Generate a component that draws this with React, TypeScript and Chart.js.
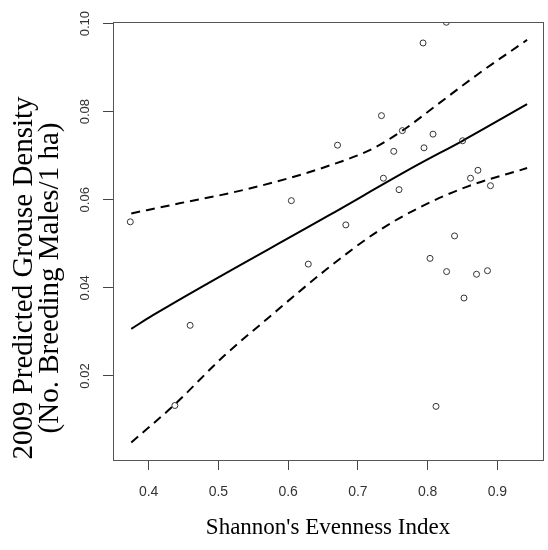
import React, { useEffect, useRef } from "react";
import { Chart, registerables } from "chart.js";

Chart.register(...registerables);

// Observed sites: Shannon's evenness vs predicted grouse density
const evenness = [
  0.8268, 0.7934, 0.7338, 0.6708, 0.7638, 0.8077, 0.7514, 0.7948, 0.8501,
  0.7366, 0.759, 0.6827, 0.8721, 0.8615, 0.8901, 0.8386, 0.8034, 0.8272,
  0.8701, 0.8858, 0.8521, 0.3737, 0.6046, 0.6289, 0.4595, 0.4376, 0.812,
];
const density = [
  0.1003, 0.0956, 0.0791, 0.0724, 0.0757, 0.0749, 0.071, 0.0718, 0.0734,
  0.0649, 0.0623, 0.0543, 0.0667, 0.0649, 0.0632, 0.0518, 0.0467, 0.0437,
  0.0431, 0.0439, 0.0377, 0.055, 0.0598, 0.0454, 0.0315, 0.0133, 0.0131,
];

// Fitted line
const fitX = [0.3751, 0.4062, 0.6589, 0.7853, 0.8501, 0.9426];
const fitY = [0.0307, 0.0338, 0.0565, 0.0679, 0.0734, 0.0817];

// Upper confidence band
const upperX = [0.3751, 0.4443, 0.5159, 0.5826, 0.6541, 0.7185, 0.7638, 0.8139, 0.8711, 0.9426];
const upperY = [0.0569, 0.0592, 0.0615, 0.0641, 0.0675, 0.0714, 0.0757, 0.0816, 0.0884, 0.0963];

// Lower confidence band
const lowerX = [0.3751, 0.4372, 0.5063, 0.5731, 0.6541, 0.7281, 0.7901, 0.8569, 0.9426];
const lowerY = [0.0049, 0.0135, 0.0243, 0.0334, 0.0441, 0.0528, 0.0584, 0.063, 0.0672];

const xTicks = [0.4, 0.5, 0.6, 0.7, 0.8, 0.9];
const xTickLabels = ["0.4", "0.5", "0.6", "0.7", "0.8", "0.9"];
const yTicks = [0.02, 0.04, 0.06, 0.08, 0.1];
const yTickLabels = ["0.02", "0.04", "0.06", "0.08", "0.10"];

const xTitle = "Shannon's Evenness Index";
const yTitle = ["2009 Predicted Grouse Density", "(No. Breeding Males/1 ha)"];

const toPts = (xs: number[], ys: number[]) => xs.map((x, i) => ({ x, y: ys[i] }));

export default function App() {
  const ref = useRef<HTMLCanvasElement>(null);

  useEffect(() => {
    document.body.style.margin = "0";
    const boxPlugin = {
      id: "box",
      afterDraw(chart: any) {
        const { ctx, chartArea: a } = chart;
        ctx.save();
        ctx.strokeStyle = "#555";
        ctx.lineWidth = 1;
        ctx.strokeRect(a.left + 0.5, a.top + 0.5, a.right - a.left, a.bottom - a.top);
        ctx.restore();
      },
    };

    // Y-axis title, drawn rotated beside the y scale (offset lower as in the original)
    const yTitlePlugin = {
      id: "yTitle",
      afterDraw(chart: any) {
        const { ctx } = chart;
        ctx.save();
        ctx.fillStyle = "#000";
        ctx.font = "29px 'Liberation Serif', 'Times New Roman', serif";
        ctx.textAlign = "center";
        ctx.textBaseline = "middle";
        const cy = 278;
        const xs = [24, 50];
        yTitle.forEach((line, i) => {
          ctx.save();
          ctx.translate(xs[i], cy);
          ctx.rotate(-Math.PI / 2);
          ctx.fillText(line, 0, 0);
          ctx.restore();
        });
        ctx.restore();
      },
    };

    const lineCommon = {
      type: "line" as const,
      showLine: true,
      pointRadius: 0,
      borderColor: "#000",
      borderWidth: 2,
      fill: false,
      cubicInterpolationMode: "monotone" as const,
      clip: 0,
    };

    const chart = new Chart(ref.current!, {
      type: "scatter",
      data: {
        datasets: [
          {
            label: "Sites",
            data: toPts(evenness, density),
            pointStyle: "circle",
            pointRadius: 3,
            pointBorderWidth: 1,
            pointBorderColor: "#333",
            pointBackgroundColor: "rgba(0,0,0,0)",
            clip: 0,
          } as any,
          { ...lineCommon, label: "Fit", data: toPts(fitX, fitY) } as any,
          { ...lineCommon, label: "Upper", data: toPts(upperX, upperY), borderDash: [9, 6] } as any,
          { ...lineCommon, label: "Lower", data: toPts(lowerX, lowerY), borderDash: [9, 6] } as any,
        ],
      },
      options: {
        responsive: false,
        animation: false,
        devicePixelRatio: 1,
        layout: { padding: { top: 22, right: 4, left: 0, bottom: 0 } },
        plugins: { legend: { display: false }, tooltip: { enabled: false } },
        scales: {
          x: {
            type: "linear",
            min: 0.3489,
            max: 0.9654,
            afterBuildTicks: (s: any) => {
              s.ticks = xTicks.map((v) => ({ value: v }));
            },
            afterFit: (s: any) => {
              s.height = 90;
            },
            ticks: {
              callback: (_v: any, i: number) => xTickLabels[i],
              font: { family: "'Liberation Sans', Arial, sans-serif", size: 14 },
              color: "#333",
              padding: 14,
              maxRotation: 0,
              minRotation: 0,
            },
            grid: { drawOnChartArea: false, tickLength: 10, color: "#444" },
            border: { display: false },
            title: {
              display: true,
              text: xTitle,
              font: { family: "'Liberation Serif', 'Times New Roman', serif", size: 23 },
              color: "#000",
              padding: { top: 0, bottom: 8 },
            },
          },
          y: {
            type: "linear",
            min: 0.00093,
            max: 0.10036,
            afterBuildTicks: (s: any) => {
              s.ticks = yTicks.map((v) => ({ value: v }));
            },
            afterFit: (s: any) => {
              s.width = 113;
            },
            ticks: {
              callback: (_v: any, i: number) => yTickLabels[i],
              font: { family: "'Liberation Sans', Arial, sans-serif", size: 13 },
              color: "#333",
              padding: 5,
              minRotation: 90,
              maxRotation: 90,
              crossAlign: "center",
            },
            grid: { drawOnChartArea: false, tickLength: 10, color: "#444" },
            border: { display: false },
          },
        },
      },
      plugins: [boxPlugin, yTitlePlugin],
    } as any);

    return () => chart.destroy();
  }, []);

  return (
    <div style={{ width: 548, height: 550 }}>
      <canvas ref={ref} width={548} height={550} />
    </div>
  );
}
